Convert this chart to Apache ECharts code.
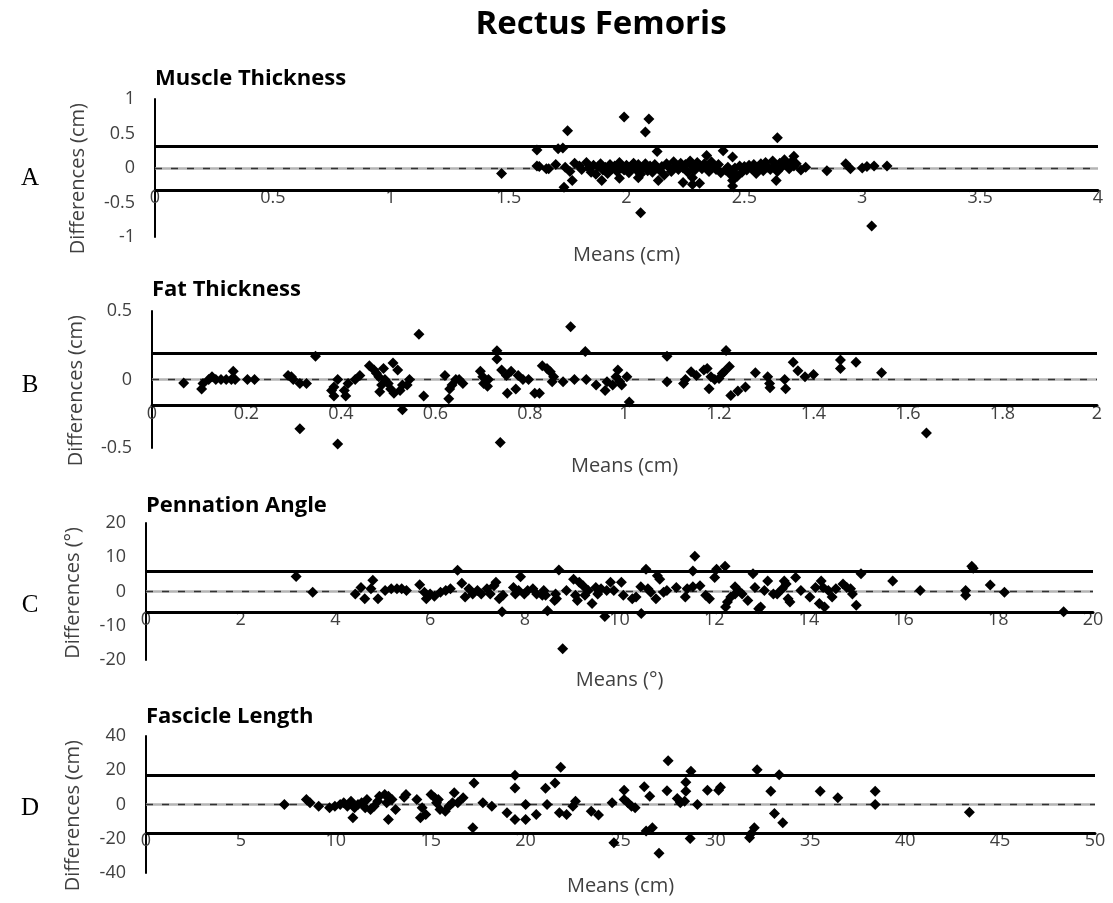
<!DOCTYPE html>
<html><head><meta charset="utf-8">
<script src="https://cdn.jsdelivr.net/npm/echarts@6/dist/echarts.min.js"></script>
<style>html,body{margin:0;padding:0;background:#fff}#c{width:1113px;height:903px}</style>
</head><body><div id="c"></div>
<script>
// ---------- DATA ----------
const mainTitle = 'Rectus Femoris';
const panelTitles = ['Muscle Thickness', 'Fat Thickness', 'Pennation Angle', 'Fascicle Length'];
const panelLetters = ['A', 'B', 'C', 'D'];
const yAxisNames = ['Differences (cm)', 'Differences (cm)', 'Differences (°)', 'Differences (cm)'];
const xAxisNames = ['Means (cm)', 'Means (cm)', 'Means (°)', 'Means (cm)'];

const xMaxes = [4, 2, 20, 50];
const xSteps = [0.5, 0.2, 2, 5];
const yMins = [-1, -0.5, -20, -40];
const yMaxes = [1, 0.5, 20, 40];
const ySteps = [0.5, 0.5, 10, 20];

// [mean bias, upper limit of agreement, lower limit of agreement]
const muscleLimits = [0, 0.315, -0.32];
const fatLimits = [0, 0.19, -0.19];
const pennationLimits = [0, 5.9, -6.0];
const fascicleLimits = [0, 17.2, -16.6];

const muscleThickness = [
[1.47,-0.08],[1.62,0.26],[1.62,0.03],[1.67,-0.01],[1.71,0.28],[1.73,0.29],[1.75,0.54],[1.77,-0.18],[1.735,-0.28],
[1.99,0.74],[2.095,0.71],[2.08,0.52],[2.13,0.24],[2.41,0.25],[2.45,0.16],[2.64,0.44],[2.06,-0.65],[3.04,-0.84],
[2.24,-0.21],[2.28,-0.14],[2.28,-0.24],[2.31,-0.22],[2.45,-0.18],[2.45,-0.26],[2.635,-0.18],[1.895,-0.18],[1.97,-0.15],
[2.05,-0.14],[2.135,-0.18],[2.34,0.18],[2.71,0.17],[2.85,-0.04],[2.93,0.06],[2.95,-0.01],[3.0,0.0],[3.02,0.02],[3.05,0.03],[3.105,0.03],
[1.63,0.02],[1.66,-0.01],[1.70,0.05],[1.74,0.01],[1.76,-0.05],[1.78,0.07],[1.80,0.03],[1.81,-0.02],[1.83,0.08],[1.84,0.00],
[1.85,-0.06],[1.86,0.04],[1.87,-0.09],[1.88,0.02],[1.89,0.06],[1.90,-0.03],[1.91,0.01],[1.92,-0.08],[1.93,0.05],[1.94,-0.01],
[1.95,0.03],[1.96,-0.05],[1.97,0.08],[1.98,0.00],[1.99,-0.03],[2.00,0.04],[2.01,-0.07],[2.02,0.02],[2.03,0.07],[2.04,-0.02],
[2.05,0.05],[2.06,-0.09],[2.07,0.01],[2.08,0.06],[2.09,-0.04],[2.10,0.03],[2.11,-0.06],[2.12,0.05],[2.13,0.00],[2.14,-0.03],
[2.15,0.02],[2.16,-0.10],[2.17,0.06],[2.18,0.01],[2.19,-0.05],[2.20,0.09],[2.21,0.03],[2.22,-0.02],[2.23,0.07],[2.24,0.00],
[2.25,0.05],[2.26,-0.06],[2.27,0.10],[2.28,0.02],[2.29,-0.03],[2.30,0.08],[2.31,0.04],[2.32,-0.01],[2.33,0.06],[2.34,0.01],
[2.35,-0.05],[2.36,0.09],[2.37,0.03],[2.38,-0.02],[2.39,0.05],[2.40,-0.07],[2.42,-0.03],[2.43,0.01],[2.44,-0.09],[2.45,-0.04],
[2.46,0.00],[2.47,-0.12],[2.48,0.03],[2.49,-0.06],[2.50,0.02],[2.51,-0.03],[2.52,0.04],[2.53,-0.01],[2.54,0.05],[2.55,-0.08],
[2.56,0.02],[2.57,0.06],[2.58,-0.04],[2.59,0.08],[2.60,0.01],[2.61,-0.02],[2.62,0.10],[2.63,0.04],[2.64,-0.05],[2.65,0.07],
[2.66,0.02],[2.67,0.12],[2.68,0.05],[2.69,-0.01],[2.70,0.09],[2.71,0.03],[2.72,0.06],[2.74,-0.03],[2.76,0.01]
];

const fatThickness = [
[0.067,-0.025],[0.105,-0.07],[0.108,-0.03],[0.12,0.0],[0.127,0.02],[0.135,0.0],[0.146,0.0],[0.157,0.0],[0.168,0.0],[0.172,0.06],
[0.176,0.0],[0.202,0.0],[0.217,0.0],[0.288,0.03],[0.295,0.02],[0.299,0.0],[0.313,-0.03],[0.327,-0.03],[0.346,0.17],[0.313,-0.36],
[0.393,0.0],[0.385,-0.055],[0.38,-0.08],[0.385,-0.12],[0.407,-0.08],[0.41,-0.12],[0.415,-0.03],[0.393,-0.47],[0.43,0.0],[0.44,0.03],
[0.46,0.1],[0.47,0.07],[0.475,0.045],[0.48,0.02],[0.49,0.08],[0.493,0.0],[0.5,-0.03],[0.505,-0.07],[0.51,0.12],[0.52,0.07],
[0.525,-0.08],[0.482,-0.09],[0.486,-0.04],[0.512,-0.1],[0.53,-0.04],[0.54,-0.04],[0.545,0.0],[0.53,-0.22],[0.565,0.33],[0.575,-0.12],
[0.62,0.03],[0.63,-0.07],[0.635,-0.04],[0.628,-0.14],[0.643,0.0],[0.65,0.0],[0.658,-0.03],[0.695,0.06],[0.7,0.02],[0.702,-0.03],
[0.71,-0.05],[0.712,0.0],[0.73,0.21],[0.73,0.15],[0.74,0.07],[0.75,0.03],[0.76,0.06],[0.737,-0.46],[0.752,-0.1],[0.77,-0.07],
[0.775,0.03],[0.785,0.0],[0.797,0.0],[0.81,-0.1],[0.826,0.1],[0.886,0.385],[0.917,0.205],[0.836,0.08],[0.843,0.057],[0.85,0.02],
[0.847,-0.017],[0.82,-0.1],[0.87,-0.017],[0.894,0.0],[0.919,0.0],[0.94,-0.04],[0.959,-0.08],[0.963,-0.017],[0.975,-0.04],[0.982,0.02],
[0.986,0.07],[0.99,-0.017],[0.994,-0.04],[1.005,0.02],[1.01,-0.165],[1.09,0.17],[1.09,-0.017],[1.125,-0.03],[1.129,0.0],[1.141,0.057],
[1.152,0.03],[1.168,0.07],[1.175,0.08],[1.179,-0.067],[1.183,0.02],[1.191,0.0],[1.2,0.007],[1.207,0.044],[1.211,0.057],[1.222,0.094],
[1.215,0.212],[1.225,-0.116],[1.24,-0.084],[1.256,-0.054],[1.277,0.05],[1.303,0.02],[1.307,-0.03],[1.308,-0.06],[1.339,0.0],[1.341,-0.067],
[1.357,0.126],[1.367,0.064],[1.382,0.02],[1.4,0.037],[1.457,0.143],[1.457,0.08],[1.49,0.126],[1.544,0.05],[1.639,-0.39]
];

const pennationAngle = [
[3.17,4.4],[3.52,-0.2],[4.42,-0.7],[4.54,1.2],[4.62,-2.1],[4.75,0.8],[4.79,3.3],[4.9,-2.1],[5.05,0.3],[5.18,0.8],
[5.3,0.8],[5.4,0.8],[5.5,0.3],[5.78,2.0],[5.88,-0.2],[5.92,-2.1],[6.0,-0.7],[6.09,-1.4],[6.22,-0.2],[6.33,0.3],
[6.43,0.8],[6.58,6.2],[6.67,2.4],[6.74,-1.6],[6.82,0.8],[6.9,-0.7],[7.0,0.3],[7.08,-0.7],[7.2,0.8],[7.27,-0.7],
[7.35,1.7],[7.39,2.7],[7.46,-2.1],[7.54,-1.1],[7.52,-5.9],[7.76,1.2],[7.8,-0.7],[7.87,0.3],[7.91,4.3],[7.99,-0.7],
[8.06,0.3],[8.17,0.8],[8.25,-0.7],[8.4,0.3],[8.44,-1.1],[8.48,-5.6],[8.72,6.3],[8.67,-2.1],[8.8,-16.7],[8.37,-1.1],
[8.65,-0.7],[8.63,-2.6],[8.88,0.3],[9.03,3.6],[9.07,-1.1],[9.15,2.7],[9.11,-2.6],[9.23,1.7],[9.27,-1.1],[9.34,0.3],
[9.42,-3.5],[9.5,1.2],[9.54,-0.7],[9.61,0.8],[9.69,-7.3],[9.73,0.3],[9.81,2.7],[9.88,0.3],[10.04,2.7],[10.08,-1.1],
[10.27,-2.1],[10.35,-1.6],[10.46,-6.4],[10.45,1.4],[10.56,6.5],[10.6,0.8],[10.66,-0.2],[10.77,-2.1],[10.85,3.6],[10.8,4.6],
[10.93,-0.2],[11.0,0.3],[11.2,1.2],[11.39,-1.6],[11.43,0.8],[11.55,1.4],[11.55,6.0],[11.59,10.3],[11.7,1.7],[11.82,-1.1],
[11.9,-2.1],[12.01,4.1],[12.05,6.5],[12.23,7.4],[12.24,-4.5],[12.28,-3.1],[12.35,-1.6],[12.44,-0.7],[12.44,1.4],[12.51,0.3],
[12.59,-0.7],[12.71,-2.6],[12.82,5.2],[12.86,1.2],[12.94,-5.0],[12.98,-4.5],[13.06,0.3],[13.13,3.1],[13.25,-0.7],[13.33,-0.7],
[13.44,0.8],[13.48,3.1],[13.52,2.2],[13.56,-2.1],[13.6,-3.1],[13.72,4.1],[13.83,0.3],[14.02,-1.6],[14.14,1.2],[14.22,-3.5],
[14.26,3.1],[14.3,1.2],[14.33,-4.5],[14.41,0.3],[14.49,-1.6],[14.57,0.8],[14.72,2.2],[14.8,1.2],[14.88,0.8],[14.92,-0.7],
[15.0,-4.0],[15.1,5.2],[15.77,3.1],[16.35,0.3],[17.31,0.3],[17.31,-1.1],[17.44,7.4],[17.47,6.8],[17.83,1.9],[18.13,-0.2],[19.38,-5.9]
];

const fascicleLength = [
[7.29,0],[8.45,2.9],[8.64,1.0],[9.1,-1.0],[9.67,-1.9],[9.95,-1.0],[10.23,0],[10.42,1.0],[10.61,-1.0],[10.8,1.9],
[10.99,-1.9],[10.9,-7.8],[11.17,0],[11.36,1.0],[11.55,-1.9],[11.64,2.9],[11.83,-2.9],[12.02,-1.0],[12.21,1.9],[12.3,4.8],
[12.68,1.0],[12.77,4.8],[12.58,5.8],[12.96,2.9],[13.15,-2.9],[12.77,-8.7],[13.6,4.3],[13.7,5.8],[14.27,2.9],[14.46,-7.8],
[14.55,-1.9],[14.74,-5.8],[15.02,5.8],[15.21,3.9],[15.31,1.0],[15.4,2.9],[15.49,-2.9],[15.77,-3.9],[15.96,-1.0],[16.15,1.0],
[16.24,6.8],[16.43,1.0],[16.71,3.9],[17.28,12.6],[17.75,1.0],[18.22,-1.0],[17.22,-13.6],[19.02,-4.8],[19.44,-8.7],[19.44,9.7],
[19.44,17.1],[20.0,0],[20.0,-8.7],[20.56,-5.8],[21.05,9.5],[21.55,12.6],[21.13,0],[21.85,21.8],[21.78,-4.8],[22.16,-5.8],
[22.49,-1.0],[22.63,1.9],[23.46,-3.9],[23.84,-6.2],[24.56,1.0],[24.65,-22.3],[25.19,8.3],[25.19,2.9],[25.39,1.0],[25.58,-1.0],
[25.77,-1.9],[26.35,-15.5],[26.68,-13.6],[26.25,10.3],[26.54,4.8],[27.03,-28.5],[27.45,8.1],[27.51,25.6],[27.99,3.5],[28.15,1.0],
[28.38,1.9],[28.44,7.8],[28.44,13.0],[28.71,19.4],[28.67,-19.8],[29.05,0],[29.58,8.3],[30.17,8.3],[30.27,10.1],[31.8,-19.4],
[31.85,-17.4],[32.05,-13.6],[32.2,20.3],[32.92,7.8],[33.11,-5.2],[33.55,-10.7],[33.36,17.4],[35.52,7.8],[36.45,3.9],[38.42,7.8],
[38.42,0],[43.38,-4.5]
];

// ---------- BUILD ----------
const datasets = [muscleThickness, fatThickness, pennationAngle, fascicleLength];
const limits = [muscleLimits, fatLimits, pennationLimits, fascicleLimits];

const FONT = '"Open Sans", "Noto Sans", sans-serif';
const layout = [
  {left:155, right:15, top:99,  height:138, subY:79,  letterY:178, yNameX:78, xNameY:255},
  {left:152, right:16, top:311, height:137, subY:290, letterY:385, yNameX:76, xNameY:466},
  {left:146, right:20, top:523, height:137, subY:506, letterY:605, yNameX:73, xNameY:680},
  {left:146, right:18, top:736, height:137, subY:717, letterY:808, yNameX:73, xNameY:886}
];
const W = 1113;

const grid = [], xAxis = [], yAxis = [], series = [], graphic = [];
graphic.push({type:'text', x:601, y:25, style:{text:mainTitle, font:'bold 33px ' + FONT, fill:'#000', textAlign:'center', textVerticalAlign:'middle', align:'center', verticalAlign:'middle'}});

layout.forEach((L, i) => {
  const [mean, upper, lower] = limits[i];
  grid.push({left:L.left, right:L.right, top:L.top, height:L.height, containLabel:false});
  // x axis is drawn where the lower limit of agreement lies (as in the original)
  const crossOffset = -(lower - yMins[i]) / (yMaxes[i] - yMins[i]) * L.height;
  xAxis.push({
    type:'value', gridIndex:i, min:0, max:xMaxes[i], interval:xSteps[i], position:'bottom', offset:crossOffset,
    axisLine:{show:true, onZero:false, lineStyle:{color:'#000', width:3}},
    axisTick:{show:false}, splitLine:{show:false},
    axisLabel:{fontSize:18, color:'#404040', margin:-1, fontFamily:FONT, showMinLabel:true, showMaxLabel:true}
  });
  yAxis.push({
    type:'value', gridIndex:i, min:yMins[i], max:yMaxes[i], interval:ySteps[i],
    axisLine:{show:true, onZero:false, lineStyle:{color:'#000', width:2}},
    axisTick:{show:false}, splitLine:{show:false},
    axisLabel:{fontSize:18, color:'#404040', margin:20, fontFamily:FONT}
  });
  series.push({
    type:'scatter', xAxisIndex:i, yAxisIndex:i, data:datasets[i],
    symbol:'diamond', symbolSize:11, itemStyle:{color:'#000', opacity:1}, z:3,
    markLine:{
      silent:true, symbol:['none','none'], label:{show:false}, animation:false, z:2,
      data:[
        {yAxis:upper, lineStyle:{color:'#000', width:3, type:'solid'}},
        {yAxis:lower, lineStyle:{color:'#000', width:3, type:'solid'}},
        {yAxis:mean, lineStyle:{color:'#b4b4b4', width:2.5, type:'solid'}},
        {yAxis:mean, lineStyle:{color:'#333', width:1.3, type:[7,9]}}
      ]
    }
  });
  graphic.push({type:'text', x:L.left, y:L.subY, style:{text:panelTitles[i], font:'bold 22px ' + FONT, fill:'#000', textAlign:'left', textVerticalAlign:'middle', align:'left', verticalAlign:'middle'}});
  graphic.push({type:'text', x:30, y:L.letterY, style:{text:panelLetters[i], font:'25px "Liberation Serif", serif', fill:'#000', textAlign:'center', textVerticalAlign:'middle', align:'center', verticalAlign:'middle'}});
  graphic.push({type:'text', x:L.yNameX, y:L.top + 4, rotation:Math.PI/2, style:{text:yAxisNames[i], font:'20px ' + FONT, fill:'#404040', textAlign:'right', textVerticalAlign:'middle', align:'right', verticalAlign:'middle'}});
  const cx = L.left + (W - L.left - L.right) / 2;
  graphic.push({type:'text', x:cx, y:L.xNameY, style:{text:xAxisNames[i], font:'20px ' + FONT, fill:'#404040', textAlign:'center', textVerticalAlign:'middle', align:'center', verticalAlign:'middle'}});
});

const chart = echarts.init(document.getElementById('c'));
chart.setOption({animation:false, backgroundColor:'#fff', grid, xAxis, yAxis, series, graphic});
</script>
</body></html>
